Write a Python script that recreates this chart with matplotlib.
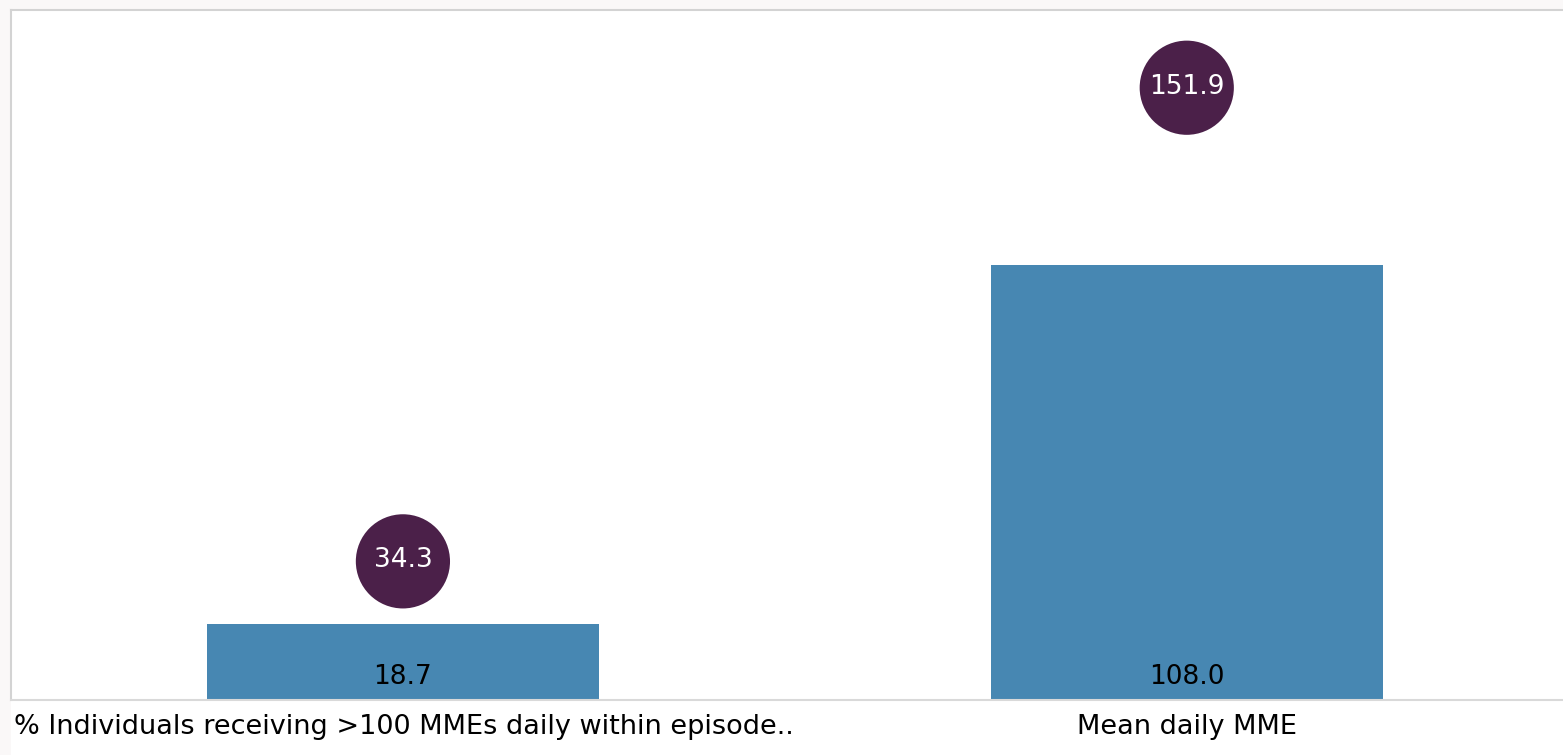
import matplotlib.pyplot as plt
from matplotlib.transforms import blended_transform_factory

categories = ["% Individuals receiving >100 MMEs daily within episode..", "Mean daily MME"]
bar_values = [18.7, 108.0]
circle_values = [34.3, 151.9]

BAR_COLOR = "#4787b2"
CIRCLE_COLOR = "#4b2049"
EDGE_GRAY = "#d3d3d3"

plt.rcParams["font.family"] = ["DejaVu Sans"]

W, H = 1563, 755
fig = plt.figure(figsize=(W / 100, H / 100), dpi=100)
fig.patch.set_facecolor("#faf8f8")

# white panel below the plot (category labels)
left_px, top_px, base_px = 11, 10, 699.5
fig.patches.append(plt.Rectangle((left_px / W, 0), 1, (H - base_px) / H,
                                 transform=fig.transFigure, facecolor="white",
                                 edgecolor="none", zorder=-1))

ax = fig.add_axes([left_px / W, (H - base_px) / H, (W - left_px) / W, (base_px - top_px) / H])
ax.set_facecolor("white")

x = list(range(len(categories)))
ax.bar(x, bar_values, width=0.5, color=BAR_COLOR, zorder=2)
ax.scatter(x, circle_values, s=4600, color=CIRCLE_COLOR, edgecolors="none", zorder=3)

ax.set_xlim(-0.5, 1.48)
ax.set_ylim(0, 171.2)

for xi, v in zip(x, bar_values):
    ax.annotate(f"{v:.1f}", (xi, 0), xytext=(0, 22), textcoords="offset pixels",
                ha="center", va="center", fontsize=19, color="black", zorder=4)
for xi, v in zip(x, circle_values):
    ax.annotate(f"{v:.1f}", (xi, v), xytext=(0, 1), textcoords="offset pixels",
                ha="center", va="center", fontsize=19, color="white", zorder=4)

ax.set_xticks([])
ax.set_yticks([])
ax.spines["right"].set_visible(False)
ax.spines["left"].set_color(EDGE_GRAY)
ax.spines["top"].set_color(EDGE_GRAY)
ax.spines["bottom"].set_color("#d9d9d9")
for side in ["left", "top", "bottom"]:
    ax.spines[side].set_linewidth(1.5)

# category labels under the baseline
trans = blended_transform_factory(ax.transData, ax.transAxes)
ax.text(0.002, -0.04, categories[0], transform=ax.transAxes, ha="left", va="center",
        fontsize=19.5, color="black", clip_on=False)
ax.text(1, -0.04, categories[1], transform=trans, ha="center", va="center",
        fontsize=19.5, color="black", clip_on=False)

fig.savefig("out.png", dpi=100, facecolor=fig.get_facecolor())
